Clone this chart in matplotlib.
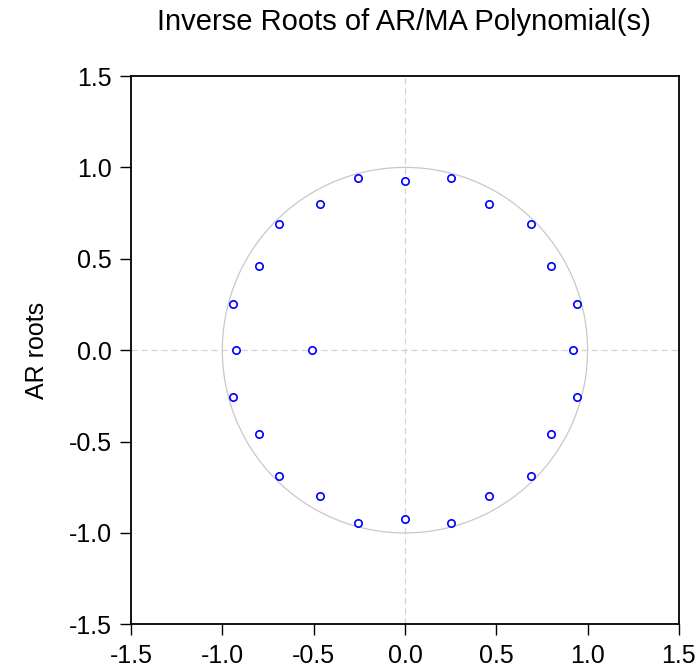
import matplotlib
matplotlib.use("Agg")
import matplotlib.pyplot as plt
import numpy as np

plt.rcParams['font.family'] = ['Liberation Sans', 'DejaVu Sans']

# inverse AR roots (real, imaginary parts)
root_re = [0.92, 0.94, 0.797, 0.69, 0.46, 0.25, 0.0, -0.255, -0.463, -0.691, -0.80, -0.943,
           -0.923, -0.943, -0.80, -0.691, -0.463, -0.255, 0.0, 0.25, 0.46, 0.69, 0.797, 0.94,
           -0.509]
root_im = [0.0, 0.255, 0.46, 0.69, 0.80, 0.943, 0.923, 0.943, 0.80, 0.691, 0.461, 0.255,
           0.0, -0.255, -0.461, -0.691, -0.80, -0.943, -0.923, -0.943, -0.80, -0.69, -0.46, -0.255,
           0.0]
ticks = [-1.5, -1.0, -0.5, 0.0, 0.5, 1.0, 1.5]

fig = plt.figure(figsize=(6.97, 6.68), dpi=100)
ax = fig.add_axes([0.188, 0.0654, 0.786, 0.8208])

# unit circle and zero lines
theta = np.linspace(0, 2 * np.pi, 400)
ax.plot(np.cos(theta), np.sin(theta), color='#c8c8c8', lw=0.9, zorder=1)
ax.axhline(0, color='#d4d4d4', lw=0.9, ls=(0, (5, 3)), zorder=1)
ax.axvline(0, color='#d4d4d4', lw=0.9, ls=(0, (5, 3)), zorder=1)

ax.plot(root_re, root_im, ls='none', marker='o', ms=5.3, mfc='white', mec='blue', mew=1.2, zorder=3)

ax.set_xlim(-1.5, 1.5)
ax.set_ylim(-1.5, 1.5)
ax.set_xticks(ticks)
ax.set_yticks(ticks)
ax.set_xticklabels([f"{t:.1f}" for t in ticks])
ax.set_yticklabels([f"{t:.1f}" for t in ticks])
ax.tick_params(direction='out', length=8, width=1, labelsize=18, pad=6)
for s in ax.spines.values():
    s.set_linewidth(1.3)

ax.set_ylabel("AR roots", fontsize=18, labelpad=14)
fig.text(0.58, 1 - 30 / 668, "Inverse Roots of AR/MA Polynomial(s)", fontsize=21,
         ha='center', va='baseline')

fig.savefig("out.png", dpi=100)
